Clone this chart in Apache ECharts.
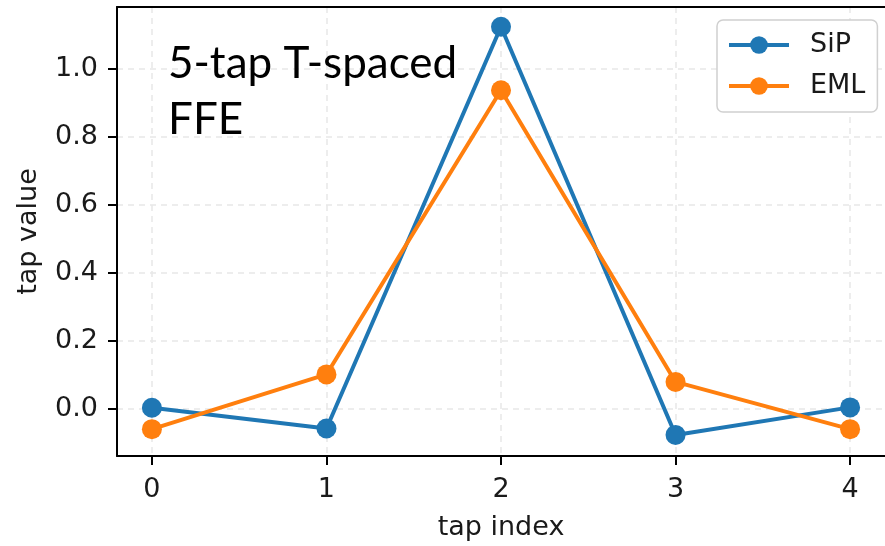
<!DOCTYPE html>
<html>
<head>
<meta charset="utf-8">
<script src="https://cdn.jsdelivr.net/npm/echarts@6/dist/echarts.min.js"></script>
<style>
  html, body { margin: 0; padding: 0; background: #fff; }
  #chart { width: 885px; height: 546px; }
</style>
</head>
<body>
<div id="chart"></div>
<script>
// FFE tap weights per tap index
const tapIndex = [0, 1, 2, 3, 4];
const sipTaps = [0.004, -0.057, 1.125, -0.076, 0.005];
const emlTaps = [-0.059, 0.102, 0.938, 0.080, -0.059];
const xTicks = [0, 1, 2, 3, 4];
const yTicks = [0, 0.2, 0.4, 0.6, 0.8, 1.0];
const seriesNames = ['SiP', 'EML'];

const BLUE = '#1f77b4';
const ORANGE = '#ff7f0e';
const TICK_FONT = 'DejaVu Sans';
const FONT_SIZE = 27;

const chart = echarts.init(document.getElementById('chart'), null, { renderer: 'canvas' });

function pairs(vals) {
  return tapIndex.map((x, i) => [x, vals[i]]);
}

const gridLine = { show: true, lineStyle: { color: '#e8e8e8', width: 1.5, type: [6, 5] } };

const option = {
  animation: false,
  backgroundColor: '#ffffff',
  grid: { left: 117, top: 7, width: 771, height: 451, containLabel: false },
  xAxis: [
    {
      type: 'value',
      min: -0.2,
      max: 4.2,
      position: 'bottom',
      name: 'tap index',
      nameLocation: 'middle',
      nameGap: 58,
      nameTextStyle: { fontFamily: TICK_FONT, fontSize: FONT_SIZE, color: '#1a1a1a' },
      axisLine: { show: true, onZero: false, lineStyle: { color: '#000', width: 2 } },
      axisTick: { show: true, length: 9, lineStyle: { color: '#000', width: 2 }, customValues: xTicks },
      axisLabel: { show: true, margin: 20, fontFamily: TICK_FONT, fontSize: FONT_SIZE, color: '#1a1a1a', customValues: xTicks, formatter: v => String(v) },
      splitLine: gridLine
    },
    {
      type: 'value',
      min: -0.2,
      max: 4.2,
      position: 'top',
      axisLine: { show: true, onZero: false, lineStyle: { color: '#000', width: 2 } },
      axisTick: { show: false },
      axisLabel: { show: false },
      splitLine: { show: false }
    }
  ],
  yAxis: {
    type: 'value',
    min: -0.138,
    max: 1.183,
    name: 'tap value',
    nameLocation: 'middle',
    nameGap: 75,
    nameRotate: 90,
    nameTextStyle: { fontFamily: TICK_FONT, fontSize: FONT_SIZE, color: '#1a1a1a' },
    axisLine: { show: true, onZero: false, lineStyle: { color: '#000', width: 2 } },
    axisTick: { show: true, length: 9, lineStyle: { color: '#000', width: 2 }, customValues: yTicks },
    axisLabel: { show: true, margin: 19, fontFamily: TICK_FONT, fontSize: FONT_SIZE, color: '#1a1a1a', customValues: yTicks, formatter: v => v.toFixed(1) },
    splitLine: gridLine
  },
  legend: {
    orient: 'vertical',
    left: 717,
    top: 20,
    padding: [10, 12, 11, 10],
    itemWidth: 60,
    itemHeight: 22,
    itemGap: 11,
    backgroundColor: '#ffffff',
    borderColor: '#d0d0d0',
    borderWidth: 1.5,
    borderRadius: 6,
    lineStyle: { width: 4 },
    textStyle: { fontFamily: TICK_FONT, fontSize: FONT_SIZE, color: '#1a1a1a', padding: [0, 0, 0, 16], lineHeight: 30 },
    data: seriesNames
  },
  graphic: [
    {
      type: 'text',
      left: 168,
      top: 36,
      z: 10,
      style: {
        text: '5-tap T-spaced\nFFE',
        fontFamily: 'Lato',
        fontSize: 44,
        lineHeight: 56,
        fill: '#000'
      }
    }
  ],
  series: [
    {
      name: seriesNames[0],
      type: 'line',
      data: pairs(sipTaps),
      symbol: 'circle',
      symbolSize: 20,
      itemStyle: { color: BLUE },
      lineStyle: { color: BLUE, width: 4 },
      z: 3
    },
    {
      name: seriesNames[1],
      type: 'line',
      data: pairs(emlTaps),
      symbol: 'circle',
      symbolSize: 20,
      itemStyle: { color: ORANGE },
      lineStyle: { color: ORANGE, width: 4 },
      z: 4
    }
  ]
};

chart.setOption(option);
</script>
</body>
</html>
